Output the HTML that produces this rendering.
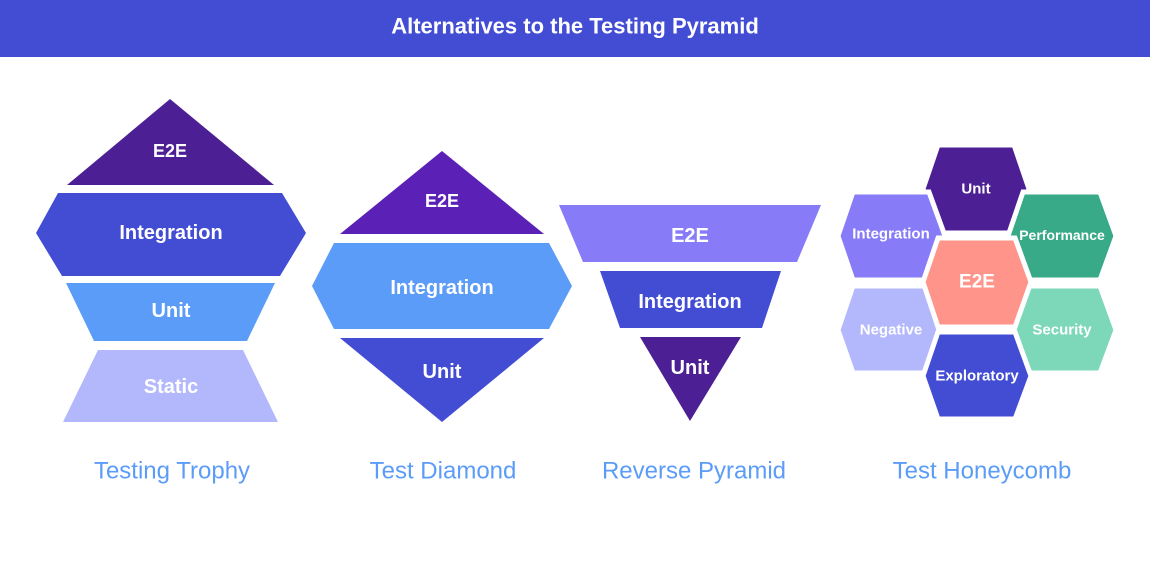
<!DOCTYPE html>
<html><head><meta charset="utf-8"><style>
html,body{margin:0;padding:0;background:#fff;}
svg{display:block;}
text{font-family:"Liberation Sans",sans-serif;font-weight:bold;fill:#fff;text-anchor:middle;dominant-baseline:central;}
.lbl{fill:#5B9CF8;font-weight:normal;font-size:24px;}
#hc polygon{stroke:#fff;stroke-width:5;stroke-linejoin:miter;}
</style></head><body>
<svg width="1150" height="561" viewBox="0 0 1150 561">
<rect x="0" y="0" width="1150" height="57" fill="#434DD4"/>
<text x="575" y="26" font-size="22">Alternatives to the Testing Pyramid</text>

<!-- Trophy -->
<polygon points="170,99 274,185 67,185" fill="#4C1F94"/>
<text x="170" y="151" font-size="18">E2E</text>
<polygon points="58,193 282,193 306,233 280,276 62,276 36,233" fill="#434DD4"/>
<text x="171" y="233" font-size="20">Integration</text>
<polygon points="66,283 275,283 247,341 94,341" fill="#5B9CF8"/>
<text x="171" y="311" font-size="20">Unit</text>
<polygon points="98,350 243,350 278,422 63,422" fill="#B3B8FC"/>
<text x="171" y="387" font-size="20">Static</text>

<!-- Diamond -->
<polygon points="442,151 544,234 340,234" fill="#5B21B6"/>
<text x="442" y="201" font-size="18">E2E</text>
<polygon points="334,243 549,243 572,286 549,329 334,329 312,286" fill="#5B9CF8"/>
<text x="442" y="288" font-size="20">Integration</text>
<polygon points="340,338 544,338 442,422" fill="#434DD4"/>
<text x="442" y="372" font-size="20">Unit</text>

<!-- Reverse -->
<polygon points="559,205 821,205 797,262 583,262" fill="#877BF8"/>
<text x="690" y="236" font-size="20">E2E</text>
<polygon points="600,271 781,271 762,328 620,328" fill="#434DD4"/>
<text x="690" y="302" font-size="20">Integration</text>
<polygon points="640,337 741,337 690,421" fill="#4C1F94"/>
<text x="690" y="368" font-size="20">Unit</text>

<!-- Honeycomb -->
<g id="hc">
<polygon points="938,145 1014,145 1029,189 1014,233 938,233 923,189" fill="#4C1F94"/>
<polygon points="853,192 929,192 945,236 929,280 853,280 838,236" fill="#877BF8"/>
<polygon points="1023,192 1100,192 1116,236 1100,280 1023,280 1008,236" fill="#38AA88"/>
<polygon points="853,286 929,286 945,330 929,373 853,373 838,330" fill="#B3B8FC"/>
<polygon points="1023,286 1100,286 1116,330 1100,373 1023,373 1008,330" fill="#7DD8BA"/>
<polygon points="938,332 1015,332 1031,376 1015,419 938,419 923,376" fill="#434DD4"/>
<polygon points="938,238 1015,238 1031,282 1015,327 938,327 923,282" fill="#FF958A"/>
</g>
<text x="976" y="189" font-size="15">Unit</text>
<text x="891" y="234" font-size="15">Integration</text>
<text x="1062" y="235" font-size="14">Performance</text>
<text x="977" y="282" font-size="19">E2E</text>
<text x="891" y="330" font-size="15">Negative</text>
<text x="1062" y="330" font-size="15">Security</text>
<text x="977" y="376" font-size="15">Exploratory</text>

<text class="lbl" x="172" y="471">Testing Trophy</text>
<text class="lbl" x="443" y="471">Test Diamond</text>
<text class="lbl" x="694" y="471">Reverse Pyramid</text>
<text class="lbl" x="982" y="471">Test Honeycomb</text>
</svg>
</body></html>
